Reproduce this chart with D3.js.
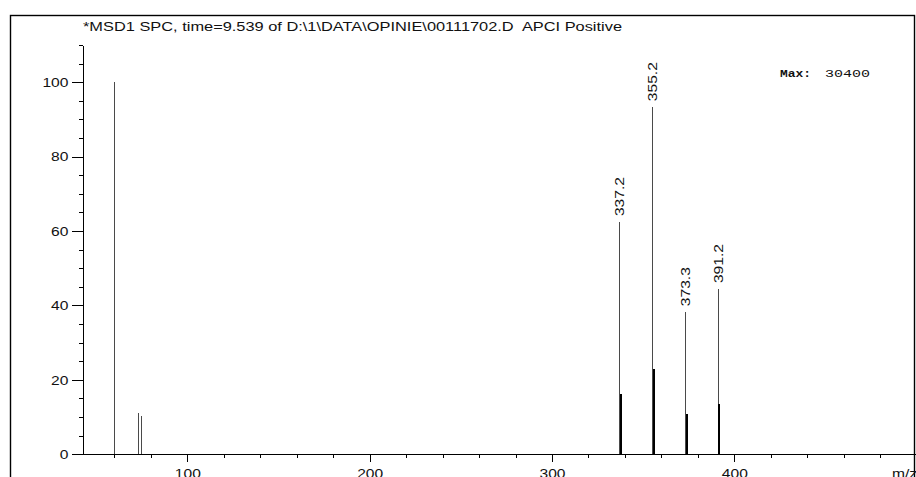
<!DOCTYPE html>
<html>
<head>
<meta charset="utf-8">
<script src="https://cdn.jsdelivr.net/npm/d3@7"></script>
<style>
    body { margin: 0; background: #fff; }
    svg { display: block; font-family: "Liberation Sans", Arial, sans-serif; }
</style>
</head>
<body>
<div id="chart"></div>
<script>
const titleText = "*MSD1 SPC, time=9.539 of D:\\1\\DATA\\OPINIE\\00111702.D  APCI Positive";
const maxLabel = "Max:";
const maxValue = "30400";
const xLabel = "m/z";

// main peaks (thin grey lines)
const peakMz = [60.1, 73.2, 75.0, 337.2, 355.2, 373.3, 391.2];
const peakAbund = [100, 11.0, 10.2, 62.4, 93.3, 38.2, 44.4];
// shorter dark bars right next to the labelled peaks
const isoMz = [337.8, 355.8, 373.9, 391.8];
const isoAbund = [16.3, 22.9, 10.7, 13.4];
const peakLabels = ["337.2", "355.2", "373.3", "391.2"];

const xMajorTicks = [100, 200, 300, 400];
const xMinorTicks = [60, 80, 120, 140, 160, 180, 220, 240, 260, 280, 320, 340, 360, 380, 420, 440, 460, 480];
const yMajorTicks = [0, 20, 40, 60, 80, 100];
const yMinorTicks = [5, 10, 15, 25, 30, 35, 45, 50, 55, 65, 70, 75, 85, 90, 95, 105, 110];

const W = 916, H = 477;
const svg = d3.select("#chart").append("svg")
    .attr("width", W)
    .attr("height", H);

const x = d3.scaleLinear().domain([43, 500]).range([83.4, 916.7]);
const y = d3.scaleLinear().domain([0, 110]).range([454.3, 45]);
const stretch = 1.2;

// frame
svg.append("rect")
    .attr("x", 10.5).attr("y", 15.5)
    .attr("width", 904).attr("height", 480)
    .attr("fill", "none")
    .attr("stroke", "#000")
    .attr("stroke-width", 1.4);

svg.append("text")
    .attr("x", 83).attr("y", 30.5)
    .attr("font-size", 12)
    .attr("textLength", 539)
    .attr("lengthAdjust", "spacingAndGlyphs")
    .style("white-space", "pre")
    .attr("fill", "#111")
    .text(titleText);

// axes
const xAxisG = svg.append("g")
    .attr("transform", `translate(0,${y(0)})`)
    .attr("shape-rendering", "crispEdges")
    .call(d3.axisBottom(x).tickValues(xMajorTicks).tickSize(8).tickPadding(6).tickSizeOuter(0).tickFormat(d3.format("d")));
svg.append("g")
    .attr("transform", `translate(0,${y(0)})`)
    .attr("shape-rendering", "crispEdges")
    .call(d3.axisBottom(x).tickValues(xMinorTicks).tickSize(4).tickSizeOuter(0).tickFormat(""))
    .select(".domain").remove();

const yAxisG = svg.append("g")
    .attr("transform", `translate(${x(43)},0)`)
    .attr("shape-rendering", "crispEdges")
    .call(d3.axisLeft(y).tickValues(yMajorTicks).tickSize(11).tickSizeOuter(0).tickFormat(d3.format("d")));
svg.append("g")
    .attr("transform", `translate(${x(43)},0)`)
    .attr("shape-rendering", "crispEdges")
    .call(d3.axisLeft(y).tickValues(yMinorTicks).tickSize(4).tickSizeOuter(0).tickFormat(""))
    .select(".domain").remove();

svg.selectAll(".tick line, .domain").attr("stroke", "#000");

xAxisG.selectAll("text")
    .attr("font-family", "Liberation Sans, Arial, sans-serif")
    .attr("font-size", 13)
    .attr("fill", "#111")
    .attr("transform", `scale(${stretch},1)`);

yAxisG.selectAll("text")
    .attr("font-family", "Liberation Sans, Arial, sans-serif")
    .attr("font-size", 13)
    .attr("fill", "#111")
    .attr("x", -15 / stretch)
    .attr("transform", `scale(${stretch},1)`);

svg.append("text")
    .attr("x", 892).attr("y", y(0) + 23.5)
    .attr("font-size", 13)
    .attr("fill", "#111")
    .attr("transform", `translate(${892 * (1 - stretch)},0) scale(${stretch},1)`)
    .text(xLabel);

// peaks
svg.append("g")
    .attr("shape-rendering", "crispEdges")
    .selectAll("line")
    .data(peakMz)
    .enter().append("line")
    .attr("x1", d => x(d)).attr("x2", d => x(d))
    .attr("y1", y(0))
    .attr("y2", (d, i) => y(peakAbund[i]))
    .attr("stroke", "#4a4a4a")
    .attr("stroke-width", 1);

svg.append("g")
    .attr("shape-rendering", "crispEdges")
    .selectAll("line")
    .data(isoMz)
    .enter().append("line")
    .attr("x1", d => x(d)).attr("x2", d => x(d))
    .attr("y1", y(0))
    .attr("y2", (d, i) => y(isoAbund[i]))
    .attr("stroke", "#000")
    .attr("stroke-width", 2);

// rotated peak labels
peakLabels.forEach(lbl => {
    const i = peakMz.indexOf(+lbl);
    if (i < 0) return;
    svg.append("text")
        .attr("transform", `translate(${x(peakMz[i])},${y(peakAbund[i]) - 6}) rotate(-90)`)
        .attr("dy", "0.35em")
        .attr("font-size", 13)
        .attr("textLength", 39)
        .attr("lengthAdjust", "spacingAndGlyphs")
        .attr("fill", "#111")
        .text(lbl);
});

// max intensity
svg.append("text")
    .attr("x", 780).attr("y", 77)
    .attr("font-family", "Liberation Mono, Courier New, monospace")
    .attr("font-weight", "bold")
    .attr("font-size", 11)
    .attr("textLength", 31)
    .attr("lengthAdjust", "spacingAndGlyphs")
    .attr("fill", "#111")
    .text(maxLabel);
svg.append("text")
    .attr("x", 825).attr("y", 77)
    .attr("font-family", "Liberation Mono, Courier New, monospace")
    .attr("font-size", 11)
    .attr("textLength", 45)
    .attr("lengthAdjust", "spacingAndGlyphs")
    .attr("fill", "#111")
    .text(maxValue);
</script>
</body>
</html>
